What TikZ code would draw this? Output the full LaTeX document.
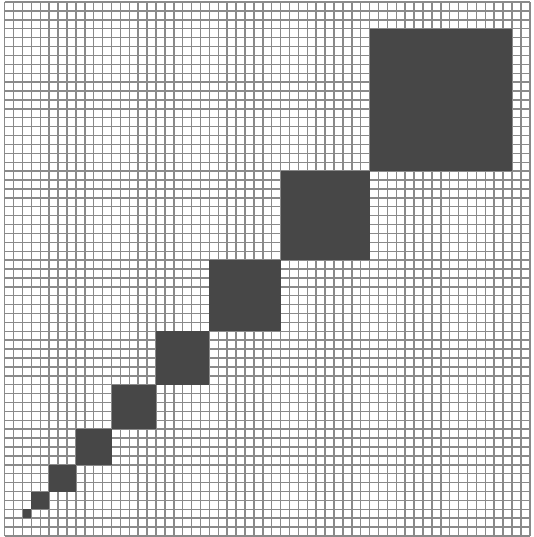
\documentclass[tikz,border=0pt]{standalone}
\definecolor{gridgray}{RGB}{138,138,138}
\definecolor{blockgray}{RGB}{71,71,71}
\tikzset{
  gridline/.style={draw=gridgray, line width=1.4pt},
  block/.style={fill=blockgray, draw=none}
}
\begin{document}
\begin{tikzpicture}[x=0.3cm,y=0.3cm]
  \useasboundingbox (-0.53,-0.11) rectangle (59.47,60.23);
  \fill[white] (-0.53,-0.11) rectangle (59.47,60.23);
  \draw[gridline] (0,0) grid[step=1] (59,60);
  \foreach \a/\b in {2/3,3/5,5/8,8/12,12/17,17/23,23/31,31/41,41/57}{
    \fill[block] (\a,\a) rectangle (\b,\b);
  }
\end{tikzpicture}
\end{document}
